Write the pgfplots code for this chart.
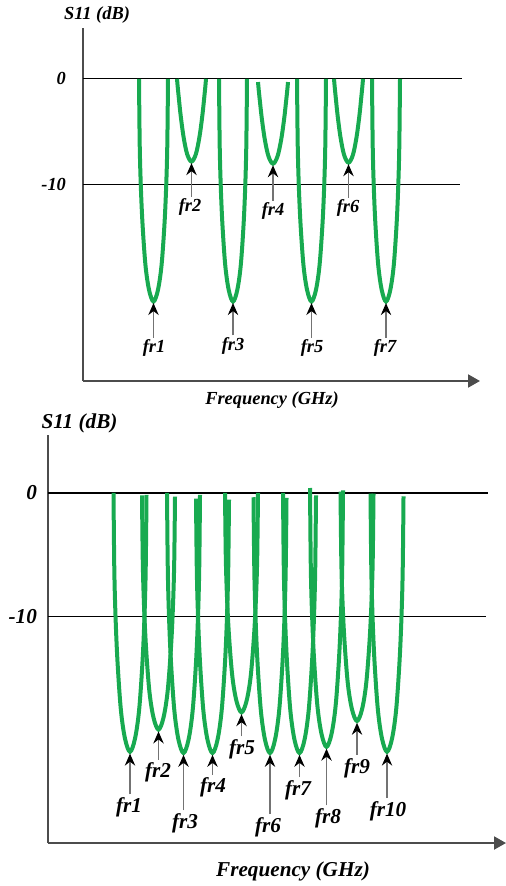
\documentclass[border=0pt]{standalone}
\usepackage{fontspec}
\setmainfont{Liberation Serif}
\usepackage{pgfplots}
\pgfplotsset{compat=1.18}
\usetikzlibrary{arrows.meta}
\definecolor{sgreen}{RGB}{24,170,80}
\newcommand\ft{\fontsize{9.2}{10}\selectfont\bfseries\itshape}
\newcommand\fb{\fontsize{10.6}{12}\selectfont\bfseries\itshape}
\tikzset{
  dip/.style={sgreen, line width=2pt, smooth, tension=0.55},
  refl/.style={black, line width=0.6pt},
  fra/.style={draw=black!55, line width=0.6pt, -{Stealth[length=6pt,width=5.2pt,inset=2pt,black]}},
}
\pgfplotsset{
  s11/.style={
    scale only axis, clip=false,
    axis lines=left,
    axis line style={draw=black!70, line width=1pt},
    x axis line style={-{Triangle[length=6pt,width=6.5pt]}},
    y axis line style={-},
    xtick=\empty, ytick={-10,0}, yticklabels={-10,0},
    major tick length=0pt,
  },
}

\begin{document}
\begin{tikzpicture}
\path[use as bounding box] (0,0) rectangle (253pt,-443pt);

% ---- upper panel: seven resonances
\begin{axis}[s11,
  at={(41.5pt,-190.5pt)}, anchor=south west,
  width=198.5pt, height=176.5pt,
  xmin=83, xmax=480, ymin=-28.5, ymax=4.8,
  yticklabel style={font=\ft, xshift=-5pt},
]
\addplot[refl] coordinates {(83,0) (462,0)};
\addplot[refl] coordinates {(83,-10) (460,-10)};

\addplot[dip] coordinates {(139,0) (139.73,-6.3) (140.89,-10.29) (142.63,-13.86) (145.53,-17.64) (149.15,-19.95) (153.5,-21) (157.85,-19.95) (161.48,-17.64) (164.38,-13.86) (166.12,-10.29) (167.28,-6.3) (168,0)};
\addplot[dip] coordinates {(177,0) (177.73,-0.78) (178.89,-1.87) (180.63,-3.43) (183.53,-5.46) (187.15,-7.1) (191.5,-7.8) (195.85,-7.1) (199.48,-5.46) (202.38,-3.43) (204.12,-1.87) (205.28,-0.78) (206,0)};
\addplot[dip] coordinates {(219,0) (219.7,-6.3) (220.82,-10.29) (222.5,-13.86) (225.3,-17.64) (228.8,-19.95) (233,-21) (237.2,-19.95) (240.7,-17.64) (243.5,-13.86) (245.18,-10.29) (246.3,-6.3) (247,0)};
\addplot[dip] coordinates {(258,-0.3) (258.75,-1.07) (259.95,-2.15) (261.75,-3.69) (264.75,-5.69) (268.5,-7.31) (273,-8.0) (277.5,-7.31) (281.25,-5.69) (284.25,-3.69) (286.05,-2.15) (287.25,-1.07) (288,-0.3)};
\addplot[dip] coordinates {(297,0) (297.73,-6.3) (298.89,-10.29) (300.63,-13.86) (303.53,-17.64) (307.15,-19.95) (311.5,-21) (315.85,-19.95) (319.48,-17.64) (322.38,-13.86) (324.12,-10.29) (325.28,-6.3) (326,0)};
\addplot[dip] coordinates {(334,0) (334.73,-0.79) (335.89,-1.9) (337.63,-3.48) (340.53,-5.53) (344.15,-7.19) (348.5,-7.9) (352.85,-7.19) (356.48,-5.53) (359.38,-3.48) (361.12,-1.9) (362.28,-0.79) (363,0)};
\addplot[dip] coordinates {(372,0) (372.7,-6.3) (373.82,-10.29) (375.5,-13.86) (378.3,-17.64) (381.8,-19.95) (386,-21) (390.2,-19.95) (393.7,-17.64) (396.5,-13.86) (398.18,-10.29) (399.3,-6.3) (400,0)};

\draw[fra] (axis cs:153.5,-24.4) -- (axis cs:153.5,-21.15);
\draw[fra] (axis cs:191.5,-11.1) -- (axis cs:191.5,-7.95);
\draw[fra] (axis cs:233,-24.2) -- (axis cs:233,-21.15);
\draw[fra] (axis cs:273,-11.5) -- (axis cs:273,-8.15);
\draw[fra] (axis cs:311.5,-24.4) -- (axis cs:311.5,-21.15);
\draw[fra] (axis cs:348.5,-11.2) -- (axis cs:348.5,-8.05);
\draw[fra] (axis cs:386,-24.4) -- (axis cs:386,-21.15);

\begin{scope}[every node/.style={font=\ft}]
\node at (axis cs:154,-25.4) {fr1};
\node at (axis cs:190,-12.1) {fr2};
\node at (axis cs:233,-25.2) {fr3};
\node at (axis cs:273,-12.5) {fr4};
\node at (axis cs:312,-25.4) {fr5};
\node at (axis cs:348,-12.2) {fr6};
\node at (axis cs:385,-25.4) {fr7};
\node at (axis cs:97,6.04) {S11 (dB)};
\node at (axis cs:272,-30.3) {Frequency (GHz)};
\end{scope}
\end{axis}

% ---- lower panel: ten resonances
\begin{axis}[s11,
  at={(24pt,-421.5pt)}, anchor=south west,
  width=229pt, height=204pt,
  xmin=48, xmax=506, ymin=-28.4, ymax=4.7,
  yticklabel style={font=\fb, xshift=-2pt},
]
\addplot[refl] coordinates {(48,0) (488,0)};
\addplot[refl] coordinates {(48,-10) (486,-10)};

\addplot[dip] coordinates {(113.5,0) (114.32,-6.3) (115.64,-10.29) (117.62,-13.86) (120.92,-17.64) (125.05,-19.95) (130,-21.0) (134.95,-19.95) (139.08,-17.64) (142.38,-13.86) (144.36,-10.29) (145.68,-6.3) (146.5,-0.15)};
\addplot[dip] coordinates {(142,-0.2) (142.82,-5.76) (144.14,-9.41) (146.12,-12.67) (149.42,-16.13) (153.55,-18.24) (158.5,-19.2) (163.45,-18.24) (167.58,-16.13) (170.88,-12.67) (172.86,-9.41) (174.18,-5.76) (175,-0.3)};
\addplot[dip] coordinates {(167,0) (167.82,-6.33) (169.14,-10.34) (171.12,-13.93) (174.42,-17.72) (178.55,-20.05) (183.5,-21.1) (188.45,-20.05) (192.58,-17.72) (195.88,-13.93) (197.86,-10.34) (199.18,-6.33) (200,-0.15)};
\addplot[dip] coordinates {(196,-0.46) (196.82,-6.33) (198.14,-10.34) (200.12,-13.93) (203.42,-17.72) (207.55,-20.05) (212.5,-21.1) (217.45,-20.05) (221.58,-17.72) (224.88,-13.93) (226.86,-10.34) (228.18,-6.33) (229,-0.55)};
\addplot[dip] coordinates {(225,0) (225.82,-5.34) (227.14,-8.72) (229.12,-11.75) (232.42,-14.95) (236.55,-16.91) (241.5,-17.8) (246.45,-16.91) (250.58,-14.95) (253.88,-11.75) (255.86,-8.72) (257.18,-5.34) (258,0)};
\addplot[dip] coordinates {(253.5,-0.35) (254.32,-6.33) (255.64,-10.34) (257.62,-13.93) (260.92,-17.72) (265.05,-20.05) (270,-21.1) (274.95,-20.05) (279.08,-17.72) (282.38,-13.93) (284.36,-10.34) (285.68,-6.33) (286.5,-0.4)};
\addplot[dip] coordinates {(283,0) (283.82,-6.33) (285.14,-10.34) (287.12,-13.93) (290.42,-17.72) (294.55,-20.05) (299.5,-21.1) (304.45,-20.05) (308.58,-17.72) (311.88,-13.93) (313.86,-10.34) (315.18,-6.33) (316,-0.2)};
\addplot[dip] coordinates {(310,0.4) (310.82,-6.18) (312.14,-10.09) (314.12,-13.6) (317.42,-17.3) (321.55,-19.57) (326.5,-20.6) (331.45,-19.57) (335.58,-17.3) (338.88,-13.6) (340.86,-10.09) (342.18,-6.18) (343,0.2)};
\addplot[dip] coordinates {(340.5,0.1) (341.32,-5.55) (342.64,-9.07) (344.62,-12.21) (347.92,-15.54) (352.05,-17.58) (357,-18.5) (361.95,-17.58) (366.08,-15.54) (369.38,-12.21) (371.36,-9.07) (372.68,-5.55) (373.5,-0.05)};
\addplot[dip] coordinates {(370.5,-0.05) (371.32,-6.3) (372.64,-10.29) (374.62,-13.86) (377.92,-17.64) (382.05,-19.95) (387,-21.0) (391.95,-19.95) (396.08,-17.64) (399.38,-13.86) (401.36,-10.29) (402.68,-6.3) (403.5,-0.27)};

\draw[fra] (axis cs:130,-24.45) -- (axis cs:130,-21.15);
\draw[fra] (axis cs:158.5,-21.65) -- (axis cs:158.5,-19.35);
\draw[fra] (axis cs:183.5,-25.75) -- (axis cs:183.5,-21.25);
\draw[fra] (axis cs:212.5,-22.85) -- (axis cs:212.5,-21.25);
\draw[fra] (axis cs:241.5,-19.75) -- (axis cs:241.5,-17.95);
\draw[fra] (axis cs:270,-26.05) -- (axis cs:270,-21.25);
\draw[fra] (axis cs:299.5,-23.05) -- (axis cs:299.5,-21.25);
\draw[fra] (axis cs:326.5,-25.35) -- (axis cs:326.5,-20.75);
\draw[fra] (axis cs:357,-21.25) -- (axis cs:357,-18.65);
\draw[fra] (axis cs:387,-24.75) -- (axis cs:387,-21.15);

\begin{scope}[every node/.style={font=\fb}]
\node at (axis cs:129,-25.5) {fr1};
\node at (axis cs:158,-22.7) {fr2};
\node at (axis cs:185,-26.8) {fr3};
\node at (axis cs:213,-23.9) {fr4};
\node at (axis cs:242,-20.8) {fr5};
\node at (axis cs:268,-27.1) {fr6};
\node at (axis cs:298,-24.1) {fr7};
\node at (axis cs:328,-26.4) {fr8};
\node at (axis cs:357,-22.3) {fr9};
\node at (axis cs:388,-25.8) {fr10};
\node at (axis cs:79.5,5.68) {S11 (dB)};
\node at (axis cs:293,-30.7) {Frequency (GHz)};
\end{scope}
\end{axis}
\end{tikzpicture}
\end{document}
